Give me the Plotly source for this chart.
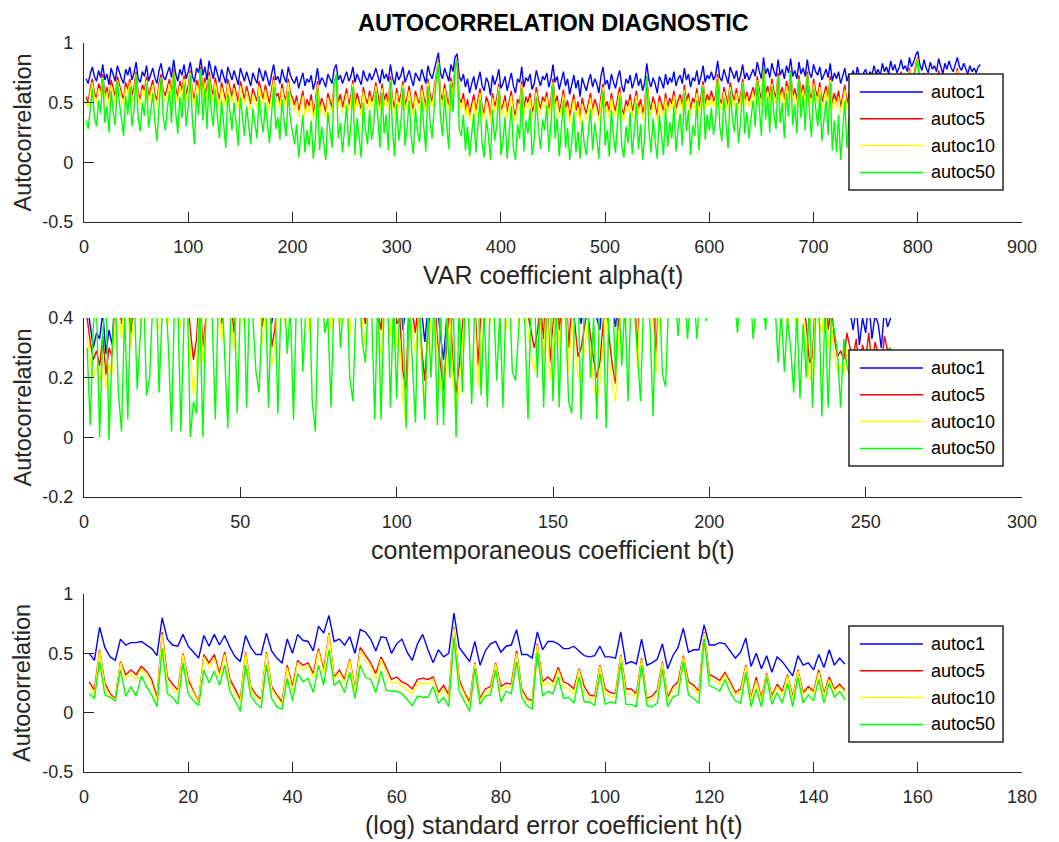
import plotly.graph_objects as go

# ---------------- data ----------------
series_names = ["autoc1", "autoc5", "autoc10", "autoc50"]

# Panel 1: VAR coefficient alpha(t) (every 2nd draw shown)
alpha_autoc1 = [
.70,.66,.74,.80,.72,.68,.77,.71,.82,.69,.74,.65,.79,.73,.68,.81,.75,.70,.66,.78,
.73,.80,.69,.75,.84,.70,.67,.76,.72,.81,.68,.74,.79,.71,.66,.77,.83,.72,.69,.75,
.80,.71,.86,.74,.68,.78,.73,.82,.70,.76,.84,.72,.67,.79,.75,.87,.73,.80,.69,.85,
.76,.70,.81,.73,.67,.78,.72,.66,.80,.74,.69,.77,.71,.65,.79,.73,.68,.76,.70,.64,
.75,.71,.66,.79,.73,.68,.77,.70,.64,.74,.82,.69,.72,.66,.78,.71,.67,.80,.73,.69,
.66,.72,.62,.69,.75,.64,.70,.67,.73,.61,.68,.79,.65,.71,.68,.63,.74,.70,.66,.78,
.82,.69,.73,.66,.71,.76,.68,.72,.80,.67,.74,.70,.65,.77,.71,.68,.75,.69,.73,.79,
.72,.66,.78,.70,.74,.68,.82,.71,.65,.76,.69,.73,.80,.67,.72,.77,.70,.64,.75,.71,
.68,.78,.72,.66,.81,.74,.70,.77,.84,.92,.75,.70,.79,.73,.68,.82,.76,.88,.91,.72,
.68,.74,.63,.70,.58,.66,.72,.61,.69,.76,.64,.60,.71,.67,.56,.73,.65,.70,.78,.62,
.66,.72,.60,.69,.75,.64,.58,.70,.67,.80,.63,.71,.68,.74,.61,.66,.77,.70,.64,.72,
.69,.75,.63,.70,.82,.67,.72,.61,.68,.76,.64,.70,.57,.66,.73,.62,.69,.55,.71,.65,
.60,.68,.74,.63,.70,.66,.58,.72,.80,.65,.69,.61,.74,.67,.62,.71,.77,.64,.59,.70,
.66,.73,.62,.68,.75,.64,.70,.60,.67,.83,.69,.63,.71,.66,.58,.72,.68,.62,.74,.65,
.71,.67,.76,.64,.70,.73,.66,.79,.69,.74,.63,.71,.68,.77,.65,.72,.81,.67,.73,.70,
.76,.69,.73,.85,.71,.68,.78,.72,.66,.80,.74,.70,.77,.67,.73,.82,.70,.75,.69,.74,
.78,.72,.84,.76,.70,.88,.74,.79,.71,.83,.76,.72,.86,.73,.78,.70,.81,.75,.87,.72,
.77,.70,.84,.74,.79,.72,.86,.75,.71,.82,.76,.73,.80,.69,.74,.78,.71,.83,.68,.75,
.70,.76,.66,.73,.79,.68,.74,.71,.77,.69,.80,.72,.67,.75,.78,.70,.76,.73,.81,.74,
.78,.72,.83,.76,.80,.74,.85,.77,.82,.75,.79,.86,.78,.81,.76,.88,.80,.84,.90,.93,
.82,.77,.86,.79,.75,.84,.78,.81,.76,.87,.80,.74,.83,.78,.85,.79,.76,.82,.88,.80,
.77,.83,.78,.74,.81,.76,.79,.75,.80,.82]
alpha_autoc5 = [
.55,.50,.62,.70,.58,.54,.66,.60,.74,.56,.63,.52,.69,.61,.55,.72,.64,.58,.53,.67,
.61,.70,.56,.63,.76,.58,.53,.65,.60,.72,.55,.62,.69,.57,.52,.66,.74,.60,.56,.63,
.70,.58,.78,.62,.55,.68,.60,.73,.57,.64,.77,.59,.53,.69,.62,.80,.60,.71,.56,.76,
.63,.56,.71,.60,.52,.67,.58,.51,.70,.61,.55,.66,.57,.50,.68,.59,.53,.64,.56,.49,
.62,.57,.51,.68,.59,.53,.65,.56,.49,.61,.72,.55,.58,.50,.66,.56,.52,.70,.58,.54,
.48,.56,.43,.51,.60,.44,.53,.47,.57,.41,.50,.68,.45,.54,.49,.42,.58,.52,.46,.66,
.72,.50,.57,.46,.53,.62,.48,.55,.69,.47,.58,.52,.44,.63,.54,.49,.60,.51,.56,.67,
.55,.47,.66,.52,.58,.49,.72,.53,.45,.62,.50,.56,.68,.48,.54,.64,.51,.44,.60,.53,
.49,.65,.55,.46,.70,.57,.51,.63,.74,.85,.58,.52,.66,.55,.48,.71,.60,.80,.86,.54,
.50,.58,.44,.53,.40,.49,.57,.43,.52,.62,.46,.41,.55,.50,.38,.58,.47,.53,.66,.44,
.48,.56,.42,.51,.60,.45,.39,.53,.49,.68,.44,.55,.50,.58,.42,.48,.63,.52,.45,.55,
.51,.59,.44,.53,.70,.49,.56,.42,.50,.61,.45,.52,.38,.48,.57,.43,.51,.37,.54,.46,
.41,.50,.58,.44,.53,.48,.39,.55,.66,.46,.51,.42,.58,.49,.43,.54,.63,.45,.40,.52,
.47,.57,.43,.50,.60,.45,.53,.41,.49,.72,.51,.44,.55,.48,.39,.56,.50,.43,.58,.46,
.54,.49,.60,.45,.52,.57,.47,.65,.51,.58,.44,.54,.50,.62,.46,.55,.68,.49,.57,.52,
.60,.51,.56,.74,.53,.49,.63,.55,.48,.67,.57,.52,.62,.49,.56,.70,.52,.59,.51,.57,
.63,.55,.72,.60,.52,.78,.57,.64,.53,.70,.59,.54,.75,.56,.63,.52,.68,.58,.77,.55,
.62,.52,.73,.57,.65,.54,.76,.59,.53,.70,.60,.55,.67,.50,.57,.64,.53,.72,.49,.58,
.51,.60,.46,.56,.65,.49,.58,.53,.63,.50,.67,.55,.48,.60,.64,.52,.61,.56,.69,.58,
.63,.54,.72,.60,.66,.57,.75,.62,.70,.58,.65,.76,.63,.68,.60,.79,.66,.72,.82,.88,
.68,.60,.75,.64,.58,.72,.63,.68,.60,.77,.66,.57,.71,.63,.74,.65,.59,.70,.79,.66,
.61,.72,.64,.58,.69,.62,.66,.60,.68,.71]
alpha_autoc10 = [
.50,.46,.58,.67,.53,.49,.62,.55,.71,.51,.59,.47,.65,.56,.50,.69,.60,.53,.48,.63,
.57,.67,.51,.58,.74,.53,.48,.61,.55,.69,.50,.57,.65,.52,.47,.62,.71,.55,.51,.58,
.66,.53,.76,.57,.50,.64,.55,.70,.52,.59,.75,.54,.48,.65,.57,.78,.55,.67,.51,.73,
.58,.51,.67,.55,.47,.63,.53,.46,.66,.56,.50,.62,.52,.45,.64,.54,.48,.60,.51,.44,
.57,.52,.46,.64,.54,.48,.61,.51,.44,.56,.69,.50,.53,.45,.62,.51,.47,.67,.53,.49,
.43,.51,.38,.46,.56,.39,.48,.42,.52,.36,.45,.65,.40,.49,.44,.37,.54,.47,.41,.63,
.70,.45,.52,.41,.48,.58,.43,.50,.66,.42,.53,.47,.39,.59,.49,.44,.56,.46,.51,.64,
.50,.42,.62,.47,.53,.44,.69,.48,.40,.58,.45,.51,.65,.43,.49,.60,.46,.39,.56,.48,
.44,.61,.50,.41,.67,.52,.46,.59,.71,.84,.53,.47,.62,.50,.43,.68,.55,.78,.85,.49,
.45,.53,.39,.48,.35,.44,.52,.38,.47,.58,.41,.36,.50,.45,.33,.54,.42,.48,.63,.39,
.43,.51,.37,.46,.56,.40,.34,.48,.44,.65,.39,.50,.45,.54,.37,.43,.59,.47,.40,.50,
.46,.55,.39,.48,.67,.44,.51,.37,.45,.57,.40,.47,.33,.43,.53,.38,.46,.32,.49,.41,
.36,.45,.54,.39,.48,.43,.34,.50,.63,.41,.46,.37,.54,.44,.38,.49,.59,.40,.35,.47,
.42,.52,.38,.45,.56,.40,.48,.36,.44,.70,.46,.39,.50,.43,.34,.51,.45,.38,.54,.41,
.49,.44,.56,.40,.47,.53,.42,.61,.46,.54,.39,.49,.45,.58,.41,.50,.65,.44,.52,.47,
.55,.46,.51,.71,.48,.44,.59,.50,.43,.63,.52,.47,.58,.44,.51,.67,.47,.55,.46,.52,
.58,.50,.69,.55,.47,.76,.52,.60,.48,.66,.54,.49,.72,.51,.59,.47,.64,.53,.75,.50,
.57,.47,.70,.52,.61,.49,.73,.54,.48,.66,.55,.50,.63,.45,.52,.60,.48,.69,.44,.53,
.46,.55,.41,.51,.61,.44,.53,.48,.59,.45,.63,.50,.43,.55,.60,.47,.56,.51,.66,.53,
.58,.49,.69,.55,.62,.52,.72,.57,.66,.53,.61,.74,.58,.64,.55,.77,.61,.68,.80,.87,
.63,.55,.72,.59,.53,.68,.58,.64,.55,.74,.61,.52,.67,.58,.71,.60,.54,.66,.77,.61,
.56,.68,.59,.53,.65,.57,.62,.55,.64,.67]
alpha_autoc50 = [
.35,.28,.45,.62,.38,.30,.52,.41,.70,.33,.47,.25,.60,.42,.31,.68,.50,.36,.22,.56,
.40,.63,.30,.44,.74,.37,.26,.50,.39,.66,.29,.43,.58,.34,.18,.48,.71,.38,.27,.45,
.60,.33,.76,.42,.24,.55,.37,.65,.30,.46,.73,.36,.15,.57,.40,.78,.35,.62,.28,.70,
.44,.30,.61,.38,.20,.52,.35,.12,.58,.40,.27,.50,.33,.14,.55,.36,.22,.47,.31,.15,
.45,.34,.20,.56,.37,.25,.50,.32,.16,.41,.63,.28,.38,.19,.53,.33,.22,.60,.36,.26,
.15,.32,.04,.22,.40,.08,.27,.14,.35,.03,.20,.62,.10,.30,.18,.02,.42,.24,.12,.66,
.74,.20,.33,.08,.25,.48,.13,.30,.63,.06,.37,.22,.04,.50,.28,.15,.44,.19,.32,.60,
.36,.12,.58,.24,.40,.10,.68,.27,.05,.49,.18,.33,.62,.14,.29,.52,.21,.07,.45,.26,
.17,.55,.30,.09,.64,.34,.20,.50,.70,.82,.38,.22,.57,.31,.11,.66,.42,.78,.85,.28,
.22,.40,.10,.30,.05,.24,.41,.08,.28,.53,.15,.04,.36,.23,.02,.44,.18,.31,.60,.06,
.18,.38,.03,.26,.47,.12,.02,.32,.20,.62,.09,.35,.24,.45,.06,.19,.55,.28,.11,.36,
.27,.48,.09,.31,.66,.20,.37,.05,.25,.52,.12,.29,.02,.17,.42,.08,.26,.03,.35,.15,
.06,.28,.45,.10,.33,.20,.03,.38,.60,.14,.27,.05,.44,.22,.08,.35,.56,.13,.04,.30,
.16,.42,.07,.25,.50,.11,.32,.02,.21,.72,.29,.08,.37,.18,.03,.40,.24,.06,.46,.13,
.34,.20,.48,.09,.28,.41,.14,.58,.26,.44,.06,.31,.22,.52,.10,.36,.64,.19,.40,.27,
.46,.23,.35,.70,.30,.18,.54,.32,.12,.60,.38,.25,.50,.16,.34,.66,.24,.42,.20,.37,
.52,.30,.68,.45,.22,.80,.36,.55,.25,.64,.40,.28,.72,.33,.50,.20,.58,.38,.76,.31,
.48,.24,.70,.37,.56,.27,.74,.42,.21,.62,.44,.30,.57,.18,.36,.52,.23,.66,.10,.35,
.08,.40,.02,.30,.52,.12,.38,.25,.50,.18,.58,.33,.15,.44,.55,.26,.46,.36,.62,.42,
.50,.30,.64,.44,.55,.38,.70,.48,.60,.40,.52,.72,.46,.58,.42,.75,.54,.62,.78,.86,
.58,.45,.68,.50,.40,.63,.48,.56,.42,.70,.54,.38,.62,.47,.66,.52,.41,.60,.74,.53,
.46,.65,.50,.40,.58,.48,.55,.44,.56,.62]

# Panel 2: contemporaneous coefficient b(t)
b_autoc1 = [
.45,.38,.30,.35,.33,.42,.28,.36,.31,.50,.55,.62,.58,.66,.52,.60,.70,.57,.63,.68,
.59,.72,.61,.54,.66,.70,.58,.64,.75,.60,.56,.68,.62,.71,.47,.58,.65,.41,.55,.63,
.70,.59,.66,.52,.61,.74,.57,.40,.63,.69,.55,.64,.71,.58,.62,.67,.50,.60,.66,.38,
.45,.62,.70,.56,.68,.61,.73,.57,.65,.60,.69,.54,.63,.72,.58,.66,.61,.70,.56,.64,
.68,.57,.62,.71,.55,.66,.60,.74,.58,.52,.65,.61,.69,.56,.47,.63,.59,.55,.66,.48,
.50,.36,.44,.60,.53,.47,.58,.42,.32,.48,.55,.62,.45,.34,.26,.40,.57,.49,.61,.44,
.52,.63,.56,.68,.59,.65,.54,.71,.60,.57,.66,.62,.58,.69,.55,.64,.60,.72,.57,.63,
.67,.55,.61,.52,.64,.58,.47,.66,.60,.55,.63,.50,.59,.68,.45,.57,.52,.44,.38,.49,
.56,.48,.42,.40,.36,.50,.58,.46,.43,.37,.52,.60,.55,.64,.58,.62,.50,.66,.59,.63,
.70,.57,.52,.65,.61,.68,.58,.64,.72,.60,.66,.74,.62,.69,.71,.65,.73,.67,.70,.75,
.72,.68,.76,.70,.74,.78,.69,.73,.77,.71,.75,.70,.74,.79,.72,.68,.76,.71,.74,.69,
.66,.72,.60,.64,.58,.67,.62,.56,.65,.60,.55,.63,.52,.61,.58,.54,.62,.50,.57,.53,
.48,.55,.45,.50,.42,.36,.44,.31,.40,.35,.46,.33,.41,.38,.30,.43,.37,.40]
b_autoc5 = [
.40,.32,.26,.29,.24,.34,.21,.30,.27,.44,.48,.38,.52,.46,.35,.50,.56,.42,.48,.60,
.50,.62,.45,.41,.55,.58,.44,.52,.63,.47,.42,.57,.48,.36,.26,.33,.52,.30,.44,.55,
.60,.46,.55,.38,.50,.63,.45,.35,.52,.58,.42,.53,.60,.45,.50,.56,.37,.48,.55,.30,
.36,.50,.58,.44,.56,.48,.62,.45,.53,.47,.57,.41,.50,.61,.45,.54,.48,.58,.42,.52,
.56,.44,.50,.59,.40,.53,.47,.62,.44,.38,.52,.48,.57,.42,.36,.50,.46,.41,.54,.38,
.40,.22,.16,.48,.42,.35,.46,.30,.19,.36,.44,.50,.33,.24,.16,.30,.45,.25,.15,.24,
.38,.50,.43,.56,.46,.24,.41,.58,.47,.44,.53,.49,.45,.56,.42,.51,.47,.60,.44,.50,
.54,.41,.36,.30,.35,.45,.33,.52,.25,.40,.50,.36,.45,.56,.30,.44,.38,.27,.30,.36,
.43,.34,.26,.20,.25,.38,.46,.33,.24,.18,.40,.48,.42,.52,.45,.50,.29,.53,.46,.50,
.57,.44,.28,.52,.48,.55,.45,.51,.60,.47,.53,.62,.49,.56,.58,.52,.60,.54,.57,.63,
.60,.55,.64,.58,.62,.66,.56,.61,.65,.58,.63,.57,.62,.67,.59,.55,.64,.58,.61,.56,
.52,.58,.46,.50,.43,.55,.48,.40,.52,.46,.38,.25,.27,.48,.44,.40,.50,.36,.44,.33,
.27,.29,.26,.35,.30,.27,.33,.22,.31,.26,.35,.24,.32,.28,.22,.34,.29,.30]
b_autoc10 = [
.34,.26,.20,.24,.18,.28,.16,.25,.21,.40,.44,.33,.48,.41,.30,.46,.52,.37,.44,.56,
.45,.58,.40,.36,.50,.54,.38,.47,.60,.42,.37,.53,.43,.30,.14,.24,.48,.25,.40,.51,
.56,.41,.50,.32,.45,.59,.40,.29,.47,.54,.37,.48,.56,.40,.45,.52,.31,.43,.50,.24,
.30,.45,.54,.38,.52,.43,.58,.40,.48,.42,.53,.35,.45,.57,.40,.50,.43,.54,.36,.47,
.52,.38,.45,.55,.34,.48,.41,.58,.38,.31,.47,.43,.53,.36,.28,.45,.40,.34,.50,.30,
.33,.12,.04,.43,.36,.28,.41,.24,.12,.30,.39,.45,.27,.18,.10,.25,.40,.18,.08,.18,
.32,.45,.37,.52,.40,.17,.35,.54,.42,.38,.49,.44,.40,.52,.36,.46,.42,.56,.38,.45,
.50,.35,.28,.22,.29,.40,.26,.48,.19,.34,.46,.30,.40,.52,.22,.38,.31,.20,.22,.29,
.38,.27,.18,.12,.18,.32,.42,.26,.17,.12,.35,.44,.37,.48,.40,.46,.23,.49,.41,.45,
.53,.38,.22,.48,.43,.51,.40,.47,.56,.42,.49,.58,.44,.52,.54,.47,.56,.50,.53,.59,
.56,.51,.60,.54,.58,.62,.52,.57,.61,.54,.59,.53,.58,.63,.55,.51,.60,.54,.57,.52,
.48,.54,.41,.45,.38,.51,.43,.35,.48,.41,.32,.19,.22,.44,.39,.35,.46,.30,.39,.27,
.22,.24,.21,.30,.25,.22,.28,.18,.27,.21,.30,.19,.27,.23,.18,.29,.24,.26]
b_autoc50 = [
.30,.04,.38,.45,.00,.35,.50,-.01,.30,.48,.15,.02,.42,.06,.46,.50,.16,.44,.52,.14,
.20,.46,.55,.15,.42,.50,.30,.02,.48,.44,.02,.40,.50,.00,.12,.08,.46,.00,.42,.50,
.40,.06,.48,.52,.30,.03,.45,.50,.08,.44,.55,.10,.48,.40,.22,.15,.42,.50,.10,.46,
.52,.08,.45,.50,.28,.44,.06,.48,.55,.22,.44,.50,.12,.02,.46,.52,.35,.40,.10,.48,
.55,.30,.45,.52,.20,.12,.44,.50,.32,.25,.48,.42,.06,.50,.06,.45,.52,.10,.46,.13,
.48,.42,.03,.45,.25,.05,.50,.30,.06,.42,.20,.48,.04,.45,.04,.40,.20,.50,.00,.45,
.15,.48,.40,.11,.46,.52,.14,.44,.10,.50,.45,.19,.42,.10,.48,.50,.22,.19,.44,.52,
.38,.06,.45,.50,.20,.48,.10,.44,.52,.12,.46,.10,.50,.42,.12,.08,.45,.50,.06,.44,
.48,.20,.40,.06,.50,.44,.03,.46,.52,.20,.48,.24,.45,.12,.50,.44,.28,.12,.46,.52,
.38,.07,.48,.50,.21,.17,.46,.45,.50,.34,.48,.52,.33,.46,.50,.33,.48,.52,.39,.50,
.55,.50,.48,.52,.56,.50,.54,.47,.35,.50,.56,.48,.52,.33,.50,.54,.48,.36,.52,.50,
.45,.25,.42,.22,.40,.30,.15,.42,.13,.38,.20,.45,.10,.40,.46,.07,.44,.10,.40,.36,
.28,.10,.33,.24,.20,.15,.12,.18,.25,.20,.16,.28,.22,.18,.24,.26,.20,.30]

# Panel 3: (log) standard error coefficient h(t)
h_autoc1 = [
.50,.44,.72,.55,.47,.44,.62,.57,.59,.59, .60,.57,.54,.48,.80,.62,.57,.56,.66,.56,
.51,.46,.65,.56,.66,.57,.65,.55,.47,.43, .65,.55,.49,.49,.67,.52,.46,.42,.62,.50,
.66,.61,.60,.52,.73,.67,.82,.60,.62,.57, .64,.50,.70,.68,.62,.52,.64,.63,.50,.58,
.62,.51,.44,.58,.66,.53,.42,.53,.47,.50, .84,.55,.49,.43,.60,.40,.52,.58,.60,.51,
.56,.57,.70,.49,.49,.46,.68,.53,.60,.60, .58,.54,.54,.56,.52,.48,.47,.48,.56,.47,
.47,.46,.68,.41,.43,.41,.62,.40,.42,.45, .58,.37,.48,.55,.71,.51,.53,.53,.74,.57,
.57,.59,.58,.52,.46,.51,.63,.39,.50,.37, .48,.34,.47,.43,.37,.31,.48,.40,.42,.36,
.49,.38,.53,.40,.46,.41]
h_autoc5 = [
.26,.19,.53,.25,.16,.12,.43,.32,.36,.32, .39,.35,.28,.13,.68,.30,.24,.19,.50,.28,
.18,.09,.49,.42,.49,.33,.51,.28,.20,.11, .51,.22,.15,.11,.51,.22,.15,.09,.40,.22,
.44,.40,.42,.33,.54,.36,.67,.30,.36,.28, .45,.20,.55,.48,.42,.33,.47,.38,.28,.30,
.26,.24,.20,.28,.29,.28,.30,.17,.23,.15, .72,.28,.17,.09,.42,.12,.20,.22,.42,.22,
.25,.24,.52,.20,.12,.10,.58,.26,.30,.26, .38,.26,.24,.20,.37,.22,.15,.14,.40,.20,
.17,.16,.49,.20,.20,.16,.46,.12,.14,.19, .43,.13,.22,.26,.48,.26,.23,.18,.68,.32,
.30,.27,.34,.26,.17,.20,.40,.12,.30,.12, .33,.14,.24,.18,.32,.13,.36,.17,.22,.18,
.36,.16,.30,.20,.24,.19]
h_autoc10 = [
.22,.15,.52,.22,.14,.11,.42,.28,.33,.28, .37,.31,.24,.10,.66,.26,.20,.16,.49,.25,
.16,.08,.47,.38,.46,.30,.49,.25,.17,.09, .50,.20,.13,.10,.50,.20,.13,.07,.38,.19,
.42,.36,.40,.29,.52,.33,.66,.28,.34,.25, .44,.18,.52,.44,.39,.28,.45,.33,.25,.26,
.23,.19,.16,.24,.25,.24,.28,.14,.20,.12, .71,.25,.15,.06,.41,.10,.18,.19,.41,.18,
.22,.21,.50,.18,.10,.08,.57,.22,.26,.22, .36,.22,.20,.16,.36,.17,.12,.11,.39,.16,
.14,.13,.48,.16,.16,.13,.45,.10,.11,.16, .42,.11,.19,.22,.47,.22,.20,.15,.67,.29,
.27,.24,.32,.23,.15,.17,.39,.10,.27,.10, .32,.12,.22,.15,.31,.11,.35,.15,.20,.16,
.34,.14,.28,.18,.22,.17]
h_autoc50 = [
.16,.12,.43,.15,.13,.10,.36,.14,.22,.14, .31,.22,.15,.05,.54,.16,.13,.07,.42,.16,
.10,.06,.36,.25,.35,.23,.40,.18,.10,.01, .40,.14,.08,.04,.40,.12,.05,.03,.29,.10,
.33,.26,.29,.17,.40,.23,.53,.23,.27,.17, .34,.12,.40,.30,.28,.17,.35,.19,.18,.18,
.16,.11,.06,.14,.13,.13,.22,.08,.13,.05, .63,.18,.10,.01,.37,.07,.14,.15,.36,.09,
.18,.16,.43,.13,.06,.03,.51,.14,.18,.16, .30,.12,.13,.08,.30,.09,.09,.06,.33,.07,
.09,.08,.42,.07,.07,.05,.40,.06,.05,.08, .37,.05,.13,.15,.43,.15,.12,.08,.62,.23,
.21,.18,.28,.17,.10,.08,.34,.05,.20,.05, .30,.07,.17,.08,.25,.05,.30,.08,.15,.10,
.28,.08,.25,.13,.18,.11]

alpha_xticks = [0, 100, 200, 300, 400, 500, 600, 700, 800, 900]
b_xticks = [0, 50, 100, 150, 200, 250, 300]
h_xticks = [0, 20, 40, 60, 80, 100, 120, 140, 160, 180]
y_ticks_wide = [-0.5, 0, 0.5, 1]
y_ticklabels_wide = ["-0.5", "0", "0.5", "1"]
y_ticks_b = [-0.2, 0, 0.2, 0.4]
y_ticklabels_b = ["-0.2", "0", "0.2", "0.4"]

# ---------------- styling / layout ----------------
W, H = 1059, 842
OFF = 8  # page offset of the figure inside the browser window
# target (window) pixel positions of the plot area
PL, PR, PT, PB = 84, 1022, 43, 772
FONT = "Liberation Sans, Arial, Helvetica, sans-serif"
AX = "#262626"
COLORS = ["#0000FF", "#FF0000", "#FFFF00", "#00FF00"]


def fx(px):
    return (px - PL) / (PR - PL)


def fy(py):
    return (PB - py) / (PB - PT)


panels = [
    dict(top=43, bot=222, xrange=[0, 900], xticks=alpha_xticks,
         yrange=[-0.5, 1], yticks=y_ticks_wide, ylabels=y_ticklabels_wide,
         xtitle="VAR coefficient alpha(t)", step=2,
         series=[alpha_autoc1, alpha_autoc5, alpha_autoc10, alpha_autoc50], leg_top=74),
    dict(top=318, bot=497, xrange=[0, 300], xticks=b_xticks,
         yrange=[-0.2, 0.4], yticks=y_ticks_b, ylabels=y_ticklabels_b,
         xtitle="contemporaneous coefficient b(t)", step=1,
         series=[b_autoc1, b_autoc5, b_autoc10, b_autoc50], leg_top=350),
    dict(top=594, bot=772, xrange=[0, 180], xticks=h_xticks,
         yrange=[-0.5, 1], yticks=y_ticks_wide, ylabels=y_ticklabels_wide,
         xtitle="(log) standard error coefficient h(t)", step=1,
         series=[h_autoc1, h_autoc5, h_autoc10, h_autoc50], leg_top=626),
]

fig = go.Figure()
layout = dict(
    width=W, height=H,
    margin=dict(l=PL - OFF, r=W - PR + OFF, t=PT - OFF, b=H - PB + OFF, autoexpand=False),
    paper_bgcolor="white", plot_bgcolor="white",
    showlegend=False,
    font=dict(family=FONT, color=AX),
)
shapes = []
annotations = []

for k, p in enumerate(panels):
    n = "" if k == 0 else str(k + 1)
    xa, ya = "x" + n, "y" + n
    for name, col, ys in zip(series_names, COLORS, p["series"]):
        xs = [p["step"] * (j + 1) for j in range(len(ys))]
        fig.add_trace(go.Scatter(x=xs, y=ys, mode="lines", name=name,
                                 line=dict(color=col, width=1.4),
                                 xaxis=xa, yaxis=ya, hoverinfo="skip"))
    dom_y = [fy(p["bot"]), fy(p["top"])]
    layout["xaxis" + n] = dict(
        domain=[0, 1], anchor=ya, range=p["xrange"],
        tickmode="array", tickvals=p["xticks"], ticktext=[str(t) for t in p["xticks"]],
        showgrid=False, zeroline=False, showline=True, linecolor=AX, linewidth=1.3,
        ticks="inside", ticklen=10, tickwidth=1.3, tickcolor=AX,
        tickfont=dict(family=FONT, size=18, color=AX), ticklabelstandoff=8,
    )
    layout["yaxis" + n] = dict(
        domain=dom_y, anchor=xa, range=p["yrange"],
        tickmode="array", tickvals=p["yticks"], ticktext=p["ylabels"],
        showgrid=False, zeroline=False, showline=True, linecolor=AX, linewidth=1.3,
        ticks="inside", ticklen=10, tickwidth=1.3, tickcolor=AX,
        tickfont=dict(family=FONT, size=18, color=AX), ticklabelstandoff=6,
    )
    # axis titles
    annotations.append(dict(text=p["xtitle"], xref="paper", yref="paper",
                            x=0.5, y=fy(p["bot"] + 37), xanchor="center", yanchor="top",
                            showarrow=False, font=dict(family=FONT, size=25, color=AX)))
    annotations.append(dict(text="Autocorrelation", xref="paper", yref="paper",
                            x=fx(22), y=fy((p["top"] + p["bot"]) / 2), xanchor="center",
                            yanchor="middle", textangle=-90, showarrow=False,
                            font=dict(family=FONT, size=23.5, color=AX)))
    # legend box (MATLAB style)
    lt = p["leg_top"]
    shapes.append(dict(type="rect", xref="paper", yref="paper",
                       x0=fx(849), x1=fx(1003), y0=fy(lt + 116), y1=fy(lt),
                       fillcolor="white", line=dict(color=AX, width=1.5), layer="above"))
    for j, (name, col) in enumerate(zip(series_names, COLORS)):
        yy = lt + 18 + j * 26.8
        shapes.append(dict(type="line", xref="paper", yref="paper",
                           x0=fx(860), x1=fx(923), y0=fy(yy), y1=fy(yy),
                           line=dict(color=col, width=1.5), layer="above"))
        annotations.append(dict(text=name, xref="paper", yref="paper",
                                x=fx(929), y=fy(yy), xanchor="left", yanchor="middle",
                                showarrow=False, font=dict(family=FONT, size=18, color="#000000")))

annotations.append(dict(text="<b>AUTOCORRELATION DIAGNOSTIC</b>", xref="paper", yref="paper",
                        x=0.5, y=fy(23), xanchor="center", yanchor="middle",
                        showarrow=False, font=dict(family=FONT, size=23.5, color="#000000")))

layout["shapes"] = shapes
layout["annotations"] = annotations
fig.update_layout(**layout)
fig.write_html("out.html")
